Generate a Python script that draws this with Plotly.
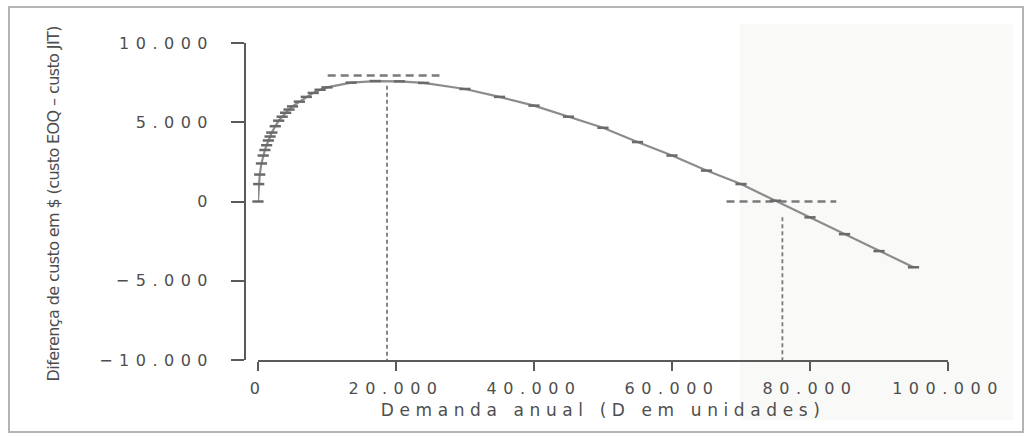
import plotly.graph_objects as go

# ---- data ----
demand = [0, 100, 250, 500, 750, 1000, 1250, 1500, 1750, 2000, 2500, 3000, 3500, 4000,
          4500, 5000, 6000, 7000, 8000, 9000, 10000, 13500, 17000, 20500, 24000, 30000,
          35000, 40000, 45000, 50000, 55000, 60000, 65000, 70000, 75000, 80000, 85000,
          90000, 95000]
cost_diff = [0, 1100, 1700, 2400, 2900, 3250, 3550, 3850, 4100, 4350, 4750, 5100, 5350,
             5600, 5800, 6000, 6300, 6600, 6850, 7050, 7200, 7500, 7600, 7580, 7480, 7100,
             6600, 6050, 5350, 4650, 3750, 2900, 1950, 1100, 50, -1000, -2060,
             -3130, -4150]

peak_guide_x = [10100, 26300]
peak_guide_y = [7950, 7950]
peak_drop_x = [18700, 18700]
peak_drop_y = [7300, -10000]
even_guide_x = [67900, 83800]
even_guide_y = [0, 0]
even_drop_x = [76000, 76000]
even_drop_y = [-1000, -10000]

x_ticks = [0, 20000, 40000, 60000, 80000, 100000]
x_tick_labels = ["0", "20.000", "40.000", "60.000", "80.000", "100.000"]
y_ticks = [10000, 5000, 0, -5000, -10000]
y_tick_labels = ["10.000", "5.000", "0", "\u22125.000", "\u221210.000"]

x_title = "Demanda anual (D em unidades)"
y_title = "Diferença de custo em $ (custo EOQ – custo JIT)"

# ---- layout geometry (pixels) ----
W, H = 1033, 437
ML, MR, MT, MB = 245, 85, 43, 77
PW, PH = W - ML - MR, H - MT - MB


def px_x(p):
    return (p - ML) / PW


def px_y(p):
    return (H - MB - p) / PH


FONT = "DejaVu Sans"
TXT = "#4e4e4e"
AX = "#5a5a5a"

fig = go.Figure()

guide_style = dict(color="#7a7a7a", width=2.5, dash="8px,5px")
drop_style = dict(color="#7a7a7a", width=1.8, dash="4px,3px")
for gx, gy, st in [(peak_guide_x, peak_guide_y, guide_style),
                   (peak_drop_x, peak_drop_y, drop_style),
                   (even_guide_x, even_guide_y, guide_style),
                   (even_drop_x, even_drop_y, drop_style)]:
    fig.add_trace(go.Scatter(x=gx, y=gy, mode="lines", line=st,
                             hoverinfo="skip", showlegend=False, cliponaxis=False))

fig.add_trace(go.Scatter(
    x=demand, y=cost_diff, mode="lines+markers",
    line=dict(color="#8c8c8c", width=2.2),
    marker=dict(symbol="line-ew", size=8, line=dict(width=2.5, color="#6a6a6a")),
    showlegend=False, cliponaxis=False))

fig.update_layout(
    width=W, height=H,
    margin=dict(l=ML, r=MR, t=MT, b=MB, pad=0),
    paper_bgcolor="white", plot_bgcolor="rgba(0,0,0,0)",
    font=dict(family=FONT, size=16, color=TXT),
    showlegend=False,
    xaxis=dict(domain=[13 / PW, 1], range=[0, 100000], showgrid=False, zeroline=False,
               showline=True, linecolor=AX, linewidth=1.5,
               ticks="outside", ticklen=9, tickwidth=1.5, tickcolor=AX,
               tickvals=x_ticks, ticktext=x_tick_labels, ticklabelstandoff=4,
               tickfont=dict(family=FONT, size=16, color=TXT)),
    yaxis=dict(anchor="free", position=0, range=[-10000, 10000], showgrid=False,
               zeroline=False, showline=True, linecolor=AX, linewidth=1.5,
               ticks="outside", ticklen=13, tickwidth=1.5, tickcolor=AX,
               tickvals=y_ticks, ticktext=y_tick_labels, ticklabelstandoff=14,
               tickfont=dict(family=FONT, size=16, color=TXT)),
    annotations=[
        dict(text=x_title, xref="x", x=50000, yref="paper", y=0, yanchor="middle",
             yshift=-50, showarrow=False, font=dict(family=FONT, size=17, color=TXT)),
        dict(text=y_title, xref="paper", x=0, xanchor="center", xshift=-192,
             yref="paper", y=0.5, yanchor="middle", yshift=-3, textangle=-90,
             showarrow=False, font=dict(family=FONT, size=16, color=TXT)),
    ],
    shapes=[
        dict(type="rect", xref="paper", yref="paper", layer="below",
             x0=px_x(740), x1=px_x(1013), y0=px_y(420), y1=px_y(24),
             fillcolor="#f9f9f8", line=dict(width=0)),
        dict(type="rect", xref="paper", yref="paper", layer="above",
             x0=px_x(9), x1=px_x(1023), y0=px_y(432), y1=px_y(7),
             fillcolor="rgba(0,0,0,0)", line=dict(color="#b4b4b4", width=2)),
    ],
)

post = """
document.body.style.margin = '0';
var gd = document.getElementById('{plot_id}');
gd.querySelectorAll('.xtick text, .ytick text').forEach(function(t){ t.style.letterSpacing = '6.5px'; });
gd.querySelectorAll('.annotation-text').forEach(function(t){
  if (t.textContent.indexOf('Demanda') === 0) { t.style.letterSpacing = '5.6px'; }
  else { t.style.letterSpacing = '-0.6px'; }
});
"""

fig.write_html("out.html", post_script=post, config={"displayModeBar": False})
